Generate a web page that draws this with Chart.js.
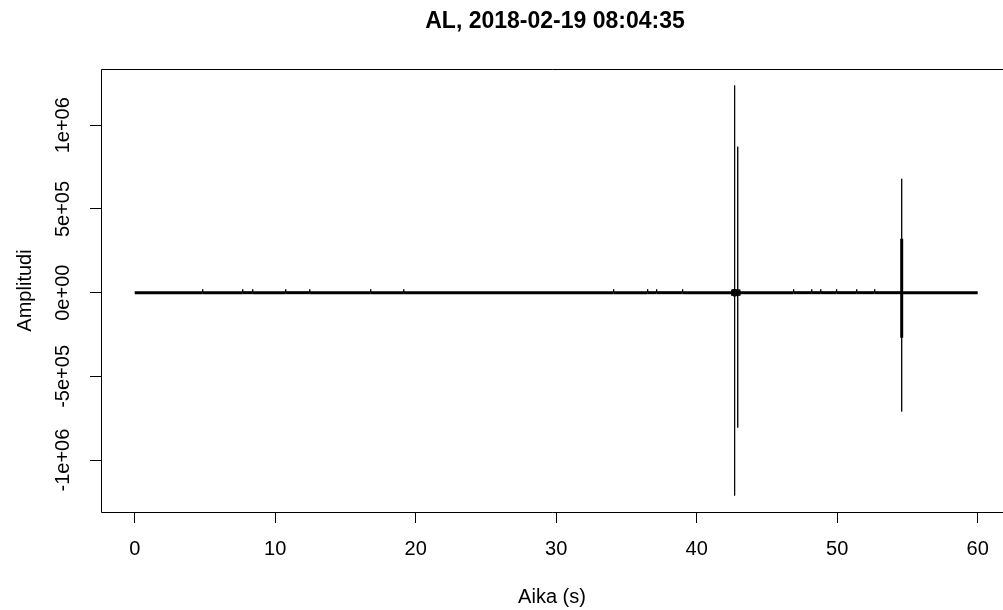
<!DOCTYPE html>
<html>
<head>
<meta charset="utf-8">
<script src="https://cdn.jsdelivr.net/npm/chart.js@4.4.0/dist/chart.umd.min.js"></script>
<style>
  html, body { margin: 0; padding: 0; background: #fff; }
</style>
</head>
<body>
<canvas id="seismiChart" width="1003" height="610"></canvas>
<script>
// Otsikko ja akselit
const chartTitle = 'AL, 2018-02-19 08:04:35';
const xTitle = 'Aika (s)';
const yTitle = 'Amplitudi';
const xTicks = [0, 10, 20, 30, 40, 50, 60];
const yTicks = [-1e6, -5e5, 0, 5e5, 1e6];
const yTickLabels = ['-1e+06', '-5e+05', '0e+00', '5e+05', '1e+06'];

// trace start / end (s)
const traceStart = 0;
const traceEnd = 60;

// bursts along the trace: time (s), highest and lowest amplitude
const burstTime = [4.84, 7.69, 8.40, 10.75, 12.46, 16.80, 19.15, 34.09, 36.51, 37.15, 39.00,
  42.50, 42.57, 42.63, 42.70, 42.78, 42.85, 42.92, 43.00, 43.07,
  46.90, 48.19, 48.83, 49.96, 51.39, 52.67, 54.59, 54.59];
const burstMax = [20000, 20000, 20000, 20000, 20000, 20000, 20000, 20000, 20000, 20000, 20000,
  18000, 20000, 22000, 1238000, 22000, 20000, 872000, 20000, 18000,
  20000, 20000, 20000, 20000, 20000, 20000, 680000, 322000];
const burstMin = [0, 0, 0, 0, 0, 0, 0, 0, 0, 0, 0,
  -18000, -20000, -22000, -1212000, -22000, -20000, -806000, -20000, -18000,
  0, 0, 0, 0, 0, 0, -710000, -269000];

// axis limits (R adds 4% on each side)
const xMin = -2.4, xMax = 61.8;
const yMin = -1.31e6, yMax = 1.336e6;

// rakennetaan viiva
const points = [{ x: traceStart, y: 0 }];
burstTime.forEach((t, i) => {
    points.push({ x: t, y: 0 });
    points.push({ x: t, y: burstMax[i] });
    points.push({ x: t, y: burstMin[i] });
    points.push({ x: t, y: 0 });
});
points.push({ x: traceEnd, y: 0 });

const fontFamily = '"Liberation Sans", Arial, sans-serif';

// box, title and rotated y labels like base R
const rPlot = {
    id: 'rPlot',
    afterDraw(chart) {
        const { ctx, chartArea } = chart;
        const ys = chart.scales.y;
        ctx.save();
        ctx.strokeStyle = '#000';
        ctx.lineWidth = 1;
        ctx.beginPath();
        ctx.moveTo(1010, chartArea.top + 0.5);
        ctx.lineTo(chartArea.left + 0.5, chartArea.top + 0.5);
        ctx.lineTo(chartArea.left + 0.5, chartArea.bottom + 0.5);
        ctx.lineTo(1010, chartArea.bottom + 0.5);
        ctx.stroke();

        ctx.fillStyle = '#000';
        ctx.font = '20px ' + fontFamily;
        ctx.textAlign = 'center';
        ctx.textBaseline = 'middle';
        yTicks.forEach((v, i) => {
            ctx.save();
            ctx.translate(63, ys.getPixelForValue(v));
            ctx.rotate(-Math.PI / 2);
            ctx.fillText(yTickLabels[i], 0, 0);
            ctx.restore();
        });

        ctx.font = 'bold 23px ' + fontFamily;
        ctx.fillText(chartTitle, 555, 22);
        ctx.restore();
    }
};

new Chart(document.getElementById('seismiChart'), {
    type: 'line',
    data: {
        datasets: [{
            data: points,
            borderColor: '#000',
            borderWidth: 1,
            pointRadius: 0,
            fill: false,
            tension: 0,
            segment: {
                // baseline and the dense part of the last burst are thicker
                borderWidth: c => {
                    const a = c.p0.parsed.y, b = c.p1.parsed.y;
                    if (a === 0 && b === 0) return 3;
                    if (Math.abs(a) <= 4e5 && Math.abs(b) <= 4e5 && Math.abs(a - b) > 1e5) return 3;
                    return 1;
                }
            }
        }]
    },
    options: {
        responsive: false,
        animation: false,
        layout: { padding: { top: 69, left: 0, right: 0, bottom: 0 } },
        plugins: { legend: { display: false }, tooltip: { enabled: false } },
        scales: {
            x: {
                type: 'linear',
                min: xMin,
                max: xMax,
                afterBuildTicks: s => { s.ticks = xTicks.map(v => ({ value: v })); },
                afterFit: s => { s.height = 98; },
                grid: { drawOnChartArea: false, drawTicks: true, tickLength: 11, color: '#000' },
                border: { display: false },
                ticks: {
                    padding: 14,
                    color: '#000',
                    maxRotation: 0,
                    autoSkip: false,
                    font: { family: fontFamily, size: 20 },
                    callback: v => String(v)
                },
                title: {
                    display: true,
                    text: xTitle,
                    color: '#000',
                    font: { family: fontFamily, size: 20 },
                    padding: { top: 0, bottom: 1 }
                }
            },
            y: {
                type: 'linear',
                min: yMin,
                max: yMax,
                afterBuildTicks: s => { s.ticks = yTicks.map(v => ({ value: v })); },
                afterFit: s => { s.width = 101; },
                grid: { drawOnChartArea: false, drawTicks: true, tickLength: 11, color: '#000' },
                border: { display: false },
                ticks: { display: false },
                title: {
                    display: true,
                    text: yTitle,
                    color: '#000',
                    font: { family: fontFamily, size: 20 },
                    padding: { top: 13, bottom: 0 }
                }
            }
        }
    },
    plugins: [rPlot]
});
</script>
</body>
</html>
